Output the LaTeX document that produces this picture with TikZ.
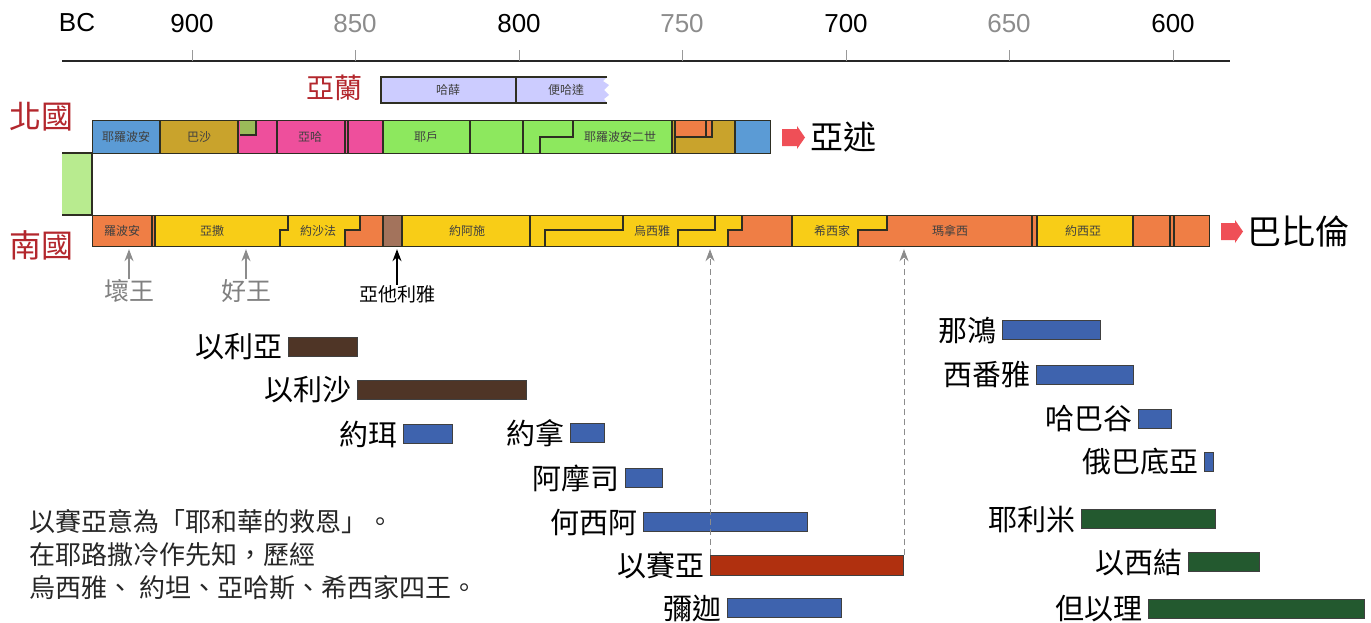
\documentclass[tikz,border=0pt]{standalone}
\usepackage{fontspec}
\setmainfont{Noto Sans CJK TC}
\newfontfamily\latin{Liberation Sans}
\usepackage{xcolor}
\usetikzlibrary{arrows.meta, positioning}

\definecolor{kblue}{HTML}{5B9BD5}
\definecolor{kolive}{HTML}{C9A32C}
\definecolor{kpink}{HTML}{EE4F9C}
\definecolor{kgreen}{HTML}{8DE85E}
\definecolor{ksage}{HTML}{9BBB59}
\definecolor{korange}{HTML}{EF7E45}
\definecolor{kyellow}{HTML}{F8CD17}
\definecolor{kbrown}{HTML}{A3735C}
\definecolor{klav}{HTML}{CCCCFF}
\definecolor{klink}{HTML}{B8EB8F}
\definecolor{kred}{HTML}{B3272D}
\definecolor{arrred}{HTML}{EF4F57}
\definecolor{pblue}{HTML}{3E63AE}
\definecolor{pbrown}{HTML}{4F3526}
\definecolor{pgreen}{HTML}{23592F}
\definecolor{pred}{HTML}{B0300F}
\definecolor{edge}{HTML}{2E2E22}

\begin{document}
\begin{tikzpicture}[
  x=0.5pt, y=-0.5pt,
  seg/.style={draw=edge, line width=0.6pt},
  tag/.style={font=\fontsize{6}{7}\selectfont, text=black!75, inner sep=0pt},
  yr/.style={font=\latin\fontsize{13}{15}\selectfont, inner sep=0pt},
  tick/.style={draw=black!40, line width=0.4pt},
  kingdom/.style={font=\fontsize{16}{18}\selectfont, text=kred, inner sep=0pt},
  place/.style={font=\fontsize{16.5}{18}\selectfont, inner sep=0pt},
  king/.style={font=\fontsize{12.5}{14}\selectfont, text=black!50, inner sep=0pt},
  pbar/.style={fill=#1, draw=black!75, line width=0.5pt, minimum height=9.5pt,
               inner sep=0pt, anchor=north west},
  plab/.style={font=\fontsize{14.5}{16}\selectfont, inner sep=0pt},
  >={Stealth[length=6pt, width=4.5pt]}
]
\useasboundingbox (0,0) rectangle (1371,622);

% --- Time axis ---
\coordinate (axL) at (62,61);
\coordinate (axR) at (1230,61);
\coordinate (tk) at (0,50);
\draw[line width=1pt, black!85] (axL) -- (axR);
\node[yr] (bc) at (77,23) {BC};
\node[yr] (y900) at (192,24) {900};
\node[yr, text=black!45] (y850) at (355,24) {850};
\node[yr] (y800) at (519,24) {800};
\node[yr, text=black!45] (y750) at (682,24) {750};
\node[yr] (y700) at (846,24) {700};
\node[yr, text=black!45] (y650) at (1009,24) {650};
\node[yr] (y600) at (1173,24) {600};
\draw[tick] (y900 |- tk) -- (y900 |- axL);
\draw[tick] (y850 |- tk) -- (y850 |- axL);
\draw[tick] (y800 |- tk) -- (y800 |- axL);
\draw[tick] (y750 |- tk) -- (y750 |- axL);
\draw[tick] (y700 |- tk) -- (y700 |- axL);
\draw[tick] (y650 |- tk) -- (y650 |- axL);
\draw[tick] (y600 |- tk) -- (y600 |- axL);

% --- Aram ---
\fill[klav] (381,77) -- (607,77) -- (603,81) -- (609,85) -- (604,90) -- (609,95)
  -- (604,99) -- (607,103) -- (381,103) -- cycle;
\draw[seg] (607,77) -- (381,77) -- (381,103) -- (607,103);
\draw[seg] (516,77) -- (516,103);
\node[tag] (hazael) at (448,90) {哈薛};
\node[tag] (benhadad) at (566,90) {便哈達};
\node[kingdom, font=\fontsize{14}{16}\selectfont] (aram) at (334,88) {亞蘭};

% --- Northern kingdom ---
\fill[kblue] (92,120) rectangle (160,153);
\fill[kolive] (160,120) rectangle (238,153);
\fill[kpink] (238,120) rectangle (383,153);
\fill[kgreen] (383,120) rectangle (673,153);
\fill[kolive] (673,120) rectangle (735,153);
\fill[korange] (675,120) rectangle (712,137);
\fill[kblue] (735,120) rectangle (770,153);
\fill[ksage] (240,120) rectangle (256,135);
\draw[seg] (160,120) -- (160,153) (238,120) -- (238,153) (277,120) -- (277,153)
  (345,120) -- (345,153) (348,120) -- (348,153) (383,120) -- (383,153)
  (470,120) -- (470,153) (523,120) -- (523,153) (672,120) -- (672,153)
  (675,120) -- (675,153) (735,120) -- (735,153);
\draw[seg] (256,120) -- (256,135) -- (240,135);
\draw[seg] (540,153) -- (540,137) -- (573,137) -- (573,120);
\draw[seg] (675,137) -- (712,137) -- (712,120) (706,120) -- (706,137);
\node[seg, fill=none, minimum width=339pt, minimum height=16.5pt, inner sep=0pt,
      anchor=north west] (isr) at (92,120) {};
\node[tag] (jeroboam) at (126,137) {耶羅波安};
\node[tag] (baasha) at (199,137) {巴沙};
\node[tag] (ahab) at (310,137) {亞哈};
\node[tag] (jehu) at (426,137) {耶戶};
\node[tag] (jeroboam2) at (620,137) {耶羅波安二世};
\node[kingdom] (north) at (42,117) {北國};

% --- Link of the united kingdom ---
\fill[klink] (62,153) rectangle (92,215);
\draw[seg] (62,153) -- (92,153) -- (92,215) (62,215) -- (92,215);

% --- Southern kingdom ---
\fill[kyellow] (92,215) rectangle (1209,246);
\fill[korange] (92,215) rectangle (155,246);
\fill[korange] (345,246) -- (345,230) -- (360,230) -- (360,215) -- (383,215) -- (383,246) -- cycle;
\fill[kbrown] (383,215) rectangle (402,246);
\fill[korange] (728,246) -- (728,230) -- (742,230) -- (742,215) -- (792,215) -- (792,246) -- cycle;
\fill[korange] (858,246) -- (858,230) -- (887,230) -- (887,215) -- (1037,215) -- (1037,246) -- cycle;
\fill[korange] (1133,215) rectangle (1209,246);
\draw[seg] (152,215) -- (152,246) (155,215) -- (155,246) (383,215) -- (383,246)
  (402,215) -- (402,246) (530,215) -- (530,246) (792,215) -- (792,246)
  (1032,215) -- (1032,246) (1037,215) -- (1037,246) (1133,215) -- (1133,246)
  (1170,215) -- (1170,246) (1174,215) -- (1174,246);
\draw[seg] (280,246) -- (280,230) -- (288,230) -- (288,215);
\draw[seg] (345,246) -- (345,230) -- (360,230) -- (360,215);
\draw[seg] (545,246) -- (545,230) -- (623,230) -- (623,215);
\draw[seg] (678,246) -- (678,230) -- (715,230) -- (715,215);
\draw[seg] (728,246) -- (728,230) -- (742,230) -- (742,215);
\draw[seg] (858,246) -- (858,230) -- (887,230) -- (887,215);
\node[seg, fill=none, minimum width=558.5pt, minimum height=15.5pt, inner sep=0pt,
      anchor=north west] (jud) at (92,215) {};
\node[tag] (rehoboam) at (122,231) {羅波安};
\node[tag] (asa) at (212,231) {亞撒};
\node[tag] (jehoshaphat) at (318,231) {約沙法};
\node[tag] (joash) at (467,231) {約阿施};
\node[tag] (uzziah) at (652,231) {烏西雅};
\node[tag] (hezekiah) at (832,231) {希西家};
\node[tag] (manasseh) at (950,231) {瑪拿西};
\node[tag] (josiah) at (1083,231) {約西亞};
\node[kingdom] (south) at (42,245) {南國};

% --- Exile arrows ---
\fill[arrred] (782,129) -- (797,129) -- (797,126) -- (805,137.5) -- (797,149)
  -- (797,146) -- (782,146) -- cycle;
\coordinate (toAss) at (805,137);
\node[place, right=2.5pt of toAss] (assyria) {亞述};
\fill[arrred] (1221,223) -- (1235,223) -- (1235,220) -- (1243,231.5) -- (1235,243)
  -- (1235,240) -- (1221,240) -- cycle;
\coordinate (toBab) at (1243,231);
\node[place, font=\fontsize{17}{19}\selectfont, right=2pt of toBab] (babylon) {巴比倫};

% --- Kings below ---
\node[king] (bad) at (129,291) {壞王};
\node[king] (good) at (246,291) {好王};
\node[font=\fontsize{9.5}{11}\selectfont, inner sep=0pt] (athaliah) at (397,294) {亞他利雅};
\draw[->, black!45, semithick, shorten >=1pt] (bad.north) -- (bad.north |- jud.south);
\draw[->, black!45, semithick, shorten >=1pt] (good.north) -- (good.north |- jud.south);
\draw[->, semithick, shorten >=1pt] (athaliah.north) -- (athaliah.north |- jud.south);

% --- Prophets ---
\node[pbar=pbrown, minimum width=34.5pt] (elijahBar) at (288,337) {};
\node[pbar=pbrown, minimum width=84.5pt] (elishaBar) at (357,380) {};
\node[pbar=pblue, minimum width=24.5pt] (joelBar) at (403,424) {};
\node[pbar=pblue, minimum width=17pt] (jonahBar) at (570,423) {};
\node[pbar=pblue, minimum width=18.5pt] (amosBar) at (625,468) {};
\node[pbar=pblue, minimum width=82pt] (hoseaBar) at (643,512) {};
\node[pbar=pred, minimum width=96.5pt, minimum height=10pt] (isaiahBar) at (710,555) {};
\node[pbar=pblue, minimum width=57pt] (micahBar) at (727,598) {};
\node[pbar=pblue, minimum width=49pt] (nahumBar) at (1002,320) {};
\node[pbar=pblue, minimum width=48.5pt] (zephBar) at (1036,365) {};
\node[pbar=pblue, minimum width=16.5pt] (habBar) at (1138,409) {};
\node[pbar=pblue, minimum width=4.5pt] (obadBar) at (1204,452) {};
\node[pbar=pgreen, minimum width=67pt] (jerBar) at (1081,509) {};
\node[pbar=pgreen, minimum width=35.5pt] (ezekBar) at (1188,552) {};
\node[pbar=pgreen, minimum width=108pt] (danBar) at (1148,599) {};

\node[plab, left=2.5pt of elijahBar] (elijah) {以利亞};
\node[plab, left=2.5pt of elishaBar] (elisha) {以利沙};
\node[plab, left=2.5pt of joelBar] (joel) {約珥};
\node[plab, left=2.5pt of jonahBar] (jonah) {約拿};
\node[plab, left=2.5pt of amosBar] (amos) {阿摩司};
\node[plab, left=2.5pt of hoseaBar] (hosea) {何西阿};
\node[plab, left=2.5pt of isaiahBar] (isaiah) {以賽亞};
\node[plab, left=2.5pt of micahBar] (micah) {彌迦};
\node[plab, left=2.5pt of nahumBar] (nahum) {那鴻};
\node[plab, left=2.5pt of zephBar] (zeph) {西番雅};
\node[plab, left=2.5pt of habBar] (hab) {哈巴谷};
\node[plab, left=2.5pt of obadBar] (obad) {俄巴底亞};
\node[plab, left=2.5pt of jerBar] (jer) {耶利米};
\node[plab, left=2.5pt of ezekBar] (ezek) {以西結};
\node[plab, left=2.5pt of danBar] (dan) {但以理};

% --- Isaiah's reign span ---
\draw[->, black!45, densely dashed, thin, shorten >=1pt] (isaiahBar.north west) -- (isaiahBar.north west |- jud.south);
\draw[->, black!45, densely dashed, thin, shorten >=1pt] (isaiahBar.north east) -- (isaiahBar.north east |- jud.south);

% --- Note ---
\node[anchor=north west, align=left, inner sep=0pt, text=black!85,
      font=\fontsize{13}{16.5}\selectfont] (note) at (29,509)
  {以賽亞意為「耶和華的救恩」。\\在耶路撒冷作先知，歷經\\烏西雅、 約坦、亞哈斯、希西家四王。};

\end{tikzpicture}
\end{document}
